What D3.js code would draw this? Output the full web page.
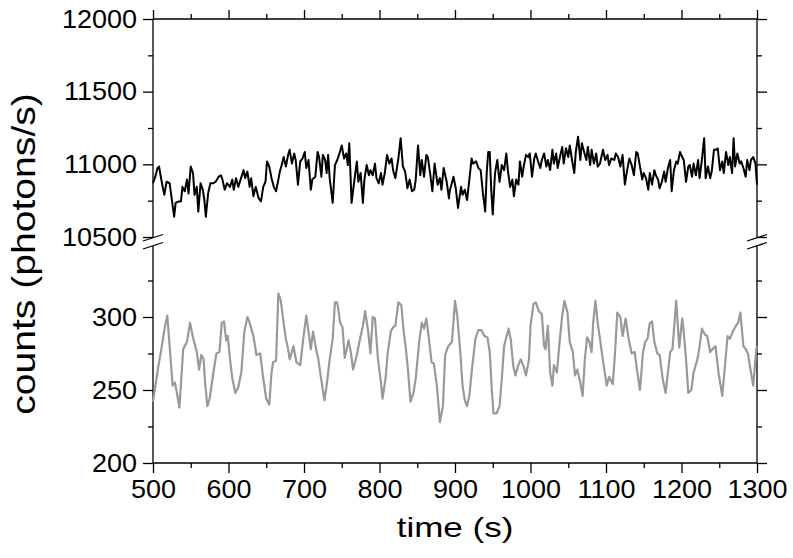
<!DOCTYPE html>
<html>
<head>
<meta charset="utf-8">
<script src="https://cdn.jsdelivr.net/npm/d3@7"></script>
<style>
  body { margin: 0; background: #fff; }
  svg { display: block; }
</style>
</head>
<body>
<div id="chart"></div>
<script>
// time (s) vs counts, upper trace (photons/s)
var signal = [
[500,10870],[503,10915],[506,10975],[508,10985],[511,10895],[515,10790],[518,10880],[522,10870],[525,10755],[528,10640],
[530,10735],[534,10745],[537,10745],[539,10845],[542,10815],[545,10895],[547,10800],[550,10985],[553,10940],[555,10790],
[558,10845],[560,10675],[563,10870],[566,10825],[568,10755],[570,10640],[573,10800],[576,10870],[580,10870],[583,10880],
[587,10915],[590,10925],[592,10895],[595,10825],[598,10870],[602,10845],[605,10895],[607,10825],[610,10905],[613,10845],
[616,10895],[620,10960],[622,10905],[625,10950],[628,10845],[630,10905],[633,10780],[636,10845],[640,10765],[643,10745],
[646,10845],[649,10880],[651,11020],[654,10985],[657,10905],[660,10845],[663,10815],[666,10895],[668,10950],[671,11005],
[673,11050],[676,10985],[679,11065],[681,11100],[684,11005],[687,11075],[689,11030],[692,10860],
[695,11020],[698,11040],[701,11085],[703,10975],[706,11030],[709,10825],[711,10895],[715,10915],[718,11085],[720,11050],
[723,10915],[725,11065],[728,11030],[730,10940],[732,11065],[734,10905],[738,10735],[741,10995],[744,11030],[747,11075],
[750,11130],[753,11040],[756,11075],[758,10995],[760,11145],[763,10735],[766,10860],[770,11020],[772,10880],[775,10940],
[778,10735],[780,10895],[783,10995],[786,10925],[788,10960],[791,10925],[794,11005],[796,10905],[799,10870],[802,10940],
[804,10860],[807,10940],[810,11065],[813,11005],[816,11040],[818,10960],[821,10905],[825,11040],[828,11180],[831,10985],
[834,10950],[837,10835],[840,10895],[843,10815],[846,10825],[848,10895],[851,11130],[854,10925],[856,11030],[859,10915],
[862,11065],[864,11050],[867,10940],[870,10815],[873,11005],[877,10860],[880,10905],[882,10825],[885,10975],[889,10880],
[892,10765],
[893,10815],[898,10915],[901,10835],[904,10700],[908,10845],[910,10790],[913,10825],[916,10755],[919,10895],[922,11040],
[924,11005],[928,11020],[931,10975],[934,10960],[937,10800],[940,10675],[942,10940],[944,11085],[946,11085],[948,10825],
[950,10655],[953,10940],[956,11030],[959,10880],[962,10995],[965,10960],[968,11075],[970,10960],[973,10845],[976,10895],
[978,10780],[981,10895],[984,10860],[986,11020],[989,10915],[991,10985],[994,11065],[997,11050],[999,11075],[1002,10915],
[1005,11040],[1007,11075],[1010,11020],[1013,10975],[1015,11030],[1018,11075],[1021,10985],[1023,11030],[1026,10960],[1029,11100],
[1031,11005],[1034,11075],[1036,10975],[1039,11050],[1042,11120],[1044,11005],[1047,11110],[1050,11050],[1052,11130],[1055,11030],
[1058,10940],[1060,11085],[1063,11190],[1066,11030],[1068,11145],[1071,11085],[1074,11030],[1076,11120],[1079,10995],[1081,11100],
[1084,11005],[1087,11075],[1089,10985],
[1092,11005],[1096,11100],[1099,11030],[1102,11065],[1104,10995],[1107,11040],[1111,11030],[1113,11075],[1116,11050],[1119,10985],
[1122,11065],[1125,10860],[1128,10960],[1131,11040],[1134,10995],[1137,10925],[1140,11085],[1142,11075],[1145,10985],[1148,10895],
[1150,10940],[1153,10905],[1156,10825],[1158,10940],[1161,10860],[1164,10960],[1166,10925],[1169,10895],[1171,10835],[1174,10880],
[1177,10950],[1179,10880],[1182,10975],[1185,11030],[1187,10815],[1190,10960],[1193,11020],[1195,11005],[1198,11085],[1201,11050],
[1203,11030],[1206,10880],[1209,10985],[1211,10995],[1214,10915],[1216,11005],[1219,10925],[1222,11030],[1224,10905],[1227,11030],
[1230,11180],[1232,10905],[1235,10985],[1238,10905],[1240,10950],[1243,11100],[1246,11100],[1248,11110],[1251,10960],[1254,11020],
[1256,10940],[1259,11085],[1262,10995],[1264,11050],[1267,10940],[1269,11180],[1271,10985],[1274,11075],[1277,11005],[1279,11020],
[1282,10975],[1285,10915],[1287,11030],[1290,10960],[1292,11030],[1295,11050],[1298,11005],[1300,10860]
];

// lower trace (photons/s)
var background = [
[500,242],[507,266],[511,278],[516,294],[519,301],[522,280],[526,253],[529,255],[531,250],[535,238],
[540,278],[545,283],[549,296],[553,286],[558,276],[561,264],[564,274],[567,271],[569,255],[572,239],
[575,244],[580,262],[584,275],[588,276],[591,296],[594,297],[597,284],[599,287],[602,271],[605,258],
[609,248],[613,252],[617,262],[621,290],[625,300],[628,296],[633,287],[637,274],[642,275],[646,258],
[650,244],[654,240],[657,262],[659,269],[663,270],[666,316],[669,312],[673,296],[676,285],[679,278],
[681,271],[686,280],[690,269],
[695,267],[699,285],[703,301],[706,290],[709,278],[712,290],[716,278],[719,271],[722,260],[727,243],
[730,253],[734,271],[738,285],[741,310],[744,310],[748,296],[751,293],[754,272],[759,284],[762,276],
[765,264],[770,274],[773,282],[778,294],[781,304],[785,290],[788,275],[791,300],[794,299],[798,271],
[802,255],[804,244],[808,258],[811,276],[815,290],[818,293],[821,294],[825,310],[829,308],[832,290],
[835,278],[838,262],[841,242],[845,248],[848,258],[853,285],[856,296],[859,292],[862,299],[865,287],
[869,269],[872,268],[876,253],[880,228],[884,239],[887,274],[891,280],
[896,283],[900,311],[903,301],[907,276],[910,253],[913,243],[916,239],[919,246],[922,262],[927,285],
[931,291],[935,291],[939,287],[943,286],[946,276],[949,248],[951,234],[955,234],[959,239],[962,258],
[965,280],[969,288],[971,292],[974,284],[977,267],[980,260],[984,267],[987,271],[991,266],[994,260],
[998,271],[1000,294],[1004,309],[1007,310],[1011,304],[1015,302],[1018,280],[1020,278],[1023,294],[1026,262],
[1029,253],[1031,267],[1035,262],[1038,280],[1042,301],[1045,311],[1049,303],[1052,283],[1056,276],[1059,260],
[1062,264],[1066,255],[1069,246],[1072,271],[1075,286],[1078,283],[1081,276],[1083,296],[1086,311],[1089,296],
[1092,285],[1096,270],[1099,260],[1101,253],[1104,259],[1109,254],[1112,276],[1115,303],[1119,300],[1122,287],
[1126,299],[1130,285],[1134,275],[1138,276],[1141,264],[1145,250],[1149,276],[1152,283],[1155,285],[1158,296],
[1161,297],[1164,283],[1168,275],[1171,274],[1175,258],[1179,248],[1182,262],[1185,276],[1188,278],[1193,311],
[1197,279],[1201,299],[1203,290],[1206,271],[1209,248],[1213,250],[1216,262],[1221,271],[1224,280],[1227,292],
[1231,288],[1234,287],[1238,276],[1241,278],[1245,280],[1249,262],[1254,246],[1258,269],[1261,287],[1264,285],
[1268,290],[1272,294],[1275,296],[1278,303],[1282,280],[1285,278],[1288,275],[1292,262],[1295,253],[1299,278],
[1300,280]
];

var xMajor = [500,600,700,800,900,1000,1100,1200,1300];
var xMinor = [550,650,750,850,950,1050,1150,1250];
var topMajor = [10500,11000,11500,12000];
var topMinor = [10750,11250,11750];
var botMajor = [200,250,300];
var botMinor = [225,275,325];

var width = 793, height = 558;
var font = "'Liberation Sans', Arial, sans-serif";

var svg = d3.select("#chart").append("svg")
    .attr("width", width)
    .attr("height", height);

var x = d3.scaleLinear().domain([500, 1300]).range([153, 757]);
var yTop = d3.scaleLinear().domain([10500, 12000]).range([237, 19]);
var yBot = d3.scaleLinear().domain([200, 350]).range([463, 244]);

// the original lettering is a little wider than Arial
function widen(sel, k) {
    sel.each(function() {
        var w = this.getComputedTextLength();
        d3.select(this).attr("textLength", w * k).attr("lengthAdjust", "spacingAndGlyphs");
    });
}

function addAxis(axis, tx, ty, labels) {
    var g = svg.append("g").attr("transform", "translate(" + tx + "," + ty + ")").call(axis);
    g.select(".domain").remove();
    g.selectAll("line").attr("stroke", "#000").attr("stroke-width", 1.3);
    g.selectAll("text").attr("font-family", font).attr("font-size", 25).attr("fill", "#000");
    if (!labels) g.selectAll("text").remove();
    else widen(g.selectAll("text"), 1.08);
    return g;
}

var fmt = d3.format("d");

// left, top panel
addAxis(d3.axisLeft(yTop).tickValues(topMajor).tickSize(10).tickPadding(6).tickFormat(fmt), 153, 0, true);
addAxis(d3.axisLeft(yTop).tickValues(topMinor).tickSize(5), 153, 0, false);
// left, bottom panel
addAxis(d3.axisLeft(yBot).tickValues(botMajor).tickSize(10).tickPadding(6).tickFormat(fmt), 153, 0, true);
addAxis(d3.axisLeft(yBot).tickValues(botMinor).tickSize(5), 153, 0, false);
// right
addAxis(d3.axisRight(yTop).tickValues(topMajor).tickSize(10), 757, 0, false);
addAxis(d3.axisRight(yTop).tickValues(topMinor).tickSize(5), 757, 0, false);
addAxis(d3.axisRight(yBot).tickValues(botMajor).tickSize(10), 757, 0, false);
addAxis(d3.axisRight(yBot).tickValues(botMinor).tickSize(5), 757, 0, false);
// top
addAxis(d3.axisTop(x).tickValues(xMajor).tickSize(9), 0, yTop(12000), false);
addAxis(d3.axisTop(x).tickValues(xMinor).tickSize(5), 0, yTop(12000), false);
// bottom
addAxis(d3.axisBottom(x).tickValues(xMajor).tickSize(10).tickPadding(7).tickFormat(fmt), 0, yBot(200), true);
addAxis(d3.axisBottom(x).tickValues(xMinor).tickSize(5), 0, yBot(200), false);

// frame lines with the break gap
var frame = svg.append("g").attr("stroke", "#000").attr("stroke-width", 1.3).attr("fill", "none");
[x(500), x(1300)].forEach(function(px) {
    frame.append("line").attr("x1", px).attr("x2", px).attr("y1", yTop(12000)).attr("y2", yTop(10500) + 1);
    frame.append("line").attr("x1", px).attr("x2", px).attr("y1", yBot(350) + 2).attr("y2", yBot(200));
    // break marks
    [0, 8].forEach(function(off) {
        frame.append("line")
            .attr("x1", px - 10).attr("y1", yTop(10500) + 4 + off)
            .attr("x2", px + 10).attr("y2", yTop(10500) - 2.5 + off);
    });
});
frame.append("line").attr("x1", x(500)).attr("x2", x(1300)).attr("y1", yTop(12000)).attr("y2", yTop(12000));
frame.append("line").attr("x1", x(500)).attr("x2", x(1300)).attr("y1", yBot(200)).attr("y2", yBot(200));

// traces
var lineTop = d3.line().x(function(d) { return x(d[0]); }).y(function(d) { return yTop(d[1]); });
var lineBot = d3.line().x(function(d) { return x(d[0]); }).y(function(d) { return yBot(d[1]); });

svg.append("path")
    .datum(background)
    .attr("d", lineBot)
    .attr("fill", "none")
    .attr("stroke", "#999999")
    .attr("stroke-width", 2.2)
    .attr("stroke-linejoin", "round");

svg.append("path")
    .datum(signal)
    .attr("d", lineTop)
    .attr("fill", "none")
    .attr("stroke", "#000")
    .attr("stroke-width", 2)
    .attr("stroke-linejoin", "round");

// axis titles
var xTitle = svg.append("text")
    .attr("x", (x(500) + x(1300)) / 2)
    .attr("y", 537)
    .attr("text-anchor", "middle")
    .attr("font-family", font)
    .attr("font-size", 28)
    .text("time (s)");
widen(xTitle, 1.25);

var yTitle = svg.append("text")
    .attr("transform", "translate(35,254) rotate(-90)")
    .attr("text-anchor", "middle")
    .attr("font-family", font)
    .attr("font-size", 34)
    .text("counts (photons/s)");
widen(yTitle, 1.15);
</script>
</body>
</html>
